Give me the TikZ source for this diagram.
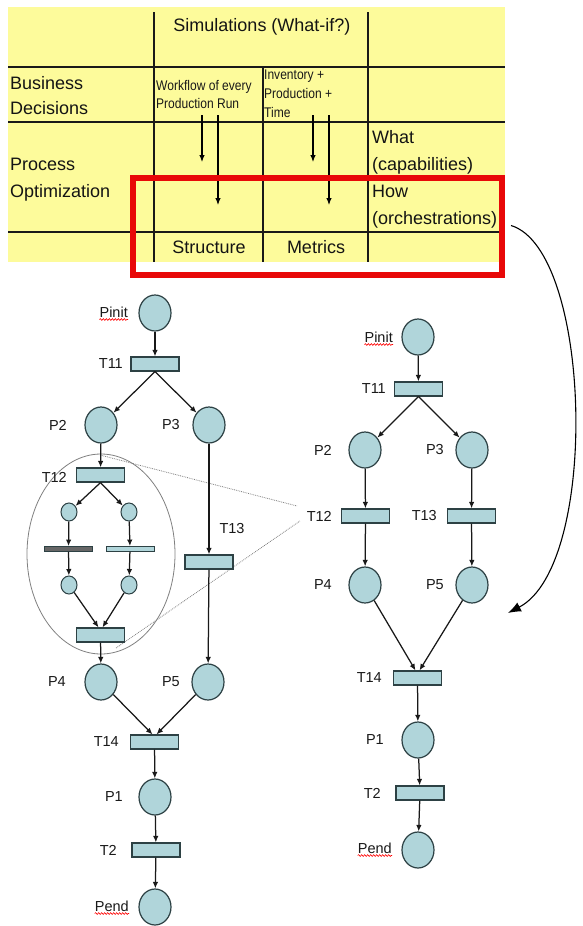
\documentclass[tikz,border=0pt]{standalone}
\usepackage{fontspec}
\setmainfont{Liberation Sans}
\newfontfamily\narrowfont[FakeStretch=0.86]{Liberation Sans}
\usetikzlibrary{shapes.geometric,arrows.meta,decorations.pathmorphing}
\definecolor{tblyellow}{RGB}{253,251,155}
\definecolor{placefill}{RGB}{176,213,218}
\definecolor{placeedge}{RGB}{45,65,68}
\definecolor{boxred}{RGB}{232,8,8}
\begin{document}
\begin{tikzpicture}[x=1pt,y=-1pt,
  place/.style={ellipse,draw=placeedge,fill=placefill,line width=1.2pt,minimum width=32pt,minimum height=36pt,inner sep=0pt},
  smallplace/.style={ellipse,draw=placeedge,fill=placefill,line width=1pt,minimum width=16pt,minimum height=18pt,inner sep=0pt},
  trans/.style={rectangle,draw=placeedge,fill=placefill,line width=1.2pt,minimum width=48pt,minimum height=14pt,inner sep=0pt},
  bar/.style={rectangle,draw=placeedge,line width=0.9pt,minimum width=48pt,minimum height=5pt,inner sep=0pt},
  lbl/.style={anchor=east,inner sep=0pt,font=\fontsize{14.5}{16}\selectfont,text=black!90},
  tbltext/.style={inner sep=0pt,text=black!92},
  smalltext/.style={inner sep=0pt,align=left,anchor=west,text=black!90},
  flow/.style={draw=black!90,line width=1.25pt,-{Latex[length=6.5pt,width=5.5pt]}},
  tblarrow/.style={draw=black,line width=1.1pt,-{Latex[length=7pt,width=5.5pt]}},
  squig/.style={draw=red,line width=0.6pt,decorate,decoration={snake,amplitude=0.9pt,segment length=3pt}},
  zoomline/.style={draw=gray,line width=0.8pt,densely dotted},
  hline/.style={draw=black!90,line width=2pt},
  vline/.style={draw=black!90,line width=1.3pt},
]
\useasboundingbox (0,0) rectangle (583,926);
\fill[white] (0,0) rectangle (583,926);

% ---------- table ----------
\fill[tblyellow] (8,7) rectangle (505,262);
\draw[hline] (8,67) -- (505,67);
\draw[hline] (8,122) -- (505,122);
\draw[hline] (8,232) -- (505,232);
\draw[vline] (154,12) -- (154,262);
\draw[vline] (263,67) -- (263,262);
\draw[vline] (368,12) -- (368,262);

\node[tbltext,font=\fontsize{18}{27}\selectfont] (sim) at (262,27) {Simulations (What-if?)};
\node[tbltext,anchor=west,align=left,font=\fontsize{18}{25}\selectfont] (bd) at (10,95.5) {Business\\Decisions};
\node[tbltext,anchor=west,align=left,font=\fontsize{18}{27}\selectfont] (po) at (10,180) {Process\\Optimization};
\node[tbltext,anchor=west,align=left,font=\fontsize{18}{27}\selectfont] (wh) at (372,179.5) {What\\(capabilities)\\How\\(orchestrations)};
\node[smalltext,font=\narrowfont\fontsize{14}{18}\selectfont] (wf) at (156,94) {Workflow of every\\Production Run};
\node[smalltext,font=\narrowfont\fontsize{14}{19}\selectfont] (inv) at (264,94) {Inventory +\\Production +\\Time};
\node[tbltext,font=\fontsize{18}{22}\selectfont] (struct) at (209,247) {Structure};
\node[tbltext,font=\fontsize{18}{22}\selectfont] (metr) at (316,247) {Metrics};

\coordinate (a1s) at (202,115); \coordinate (a1e) at (202,162);
\coordinate (a2s) at (218,115); \coordinate (a2e) at (218,205);
\coordinate (a3s) at (313,115); \coordinate (a3e) at (313,162);
\coordinate (a4s) at (329,115); \coordinate (a4e) at (329,205);
\draw[tblarrow] (a1s) -- (a1e);
\draw[tblarrow] (a2s) -- (a2e);
\draw[tblarrow] (a3s) -- (a3e);
\draw[tblarrow] (a4s) -- (a4e);

\node[draw=boxred,line width=6pt,minimum width=369pt,minimum height=97pt,inner sep=0pt] (redbox) at (317.5,226.5) {};

% ---------- curved arrow ----------
\coordinate (cend) at (508,613);
\draw[line width=1.1pt,-{Latex[length=13pt,width=10pt]}] ([xshift=6pt,yshift=1pt]redbox.east) .. controls (592,250) and (600,565) .. (cend);

% ---------- zoom ellipse and lines ----------
\draw[gray,line width=0.8pt] (101,554) ellipse [x radius=74pt, y radius=100pt];
\coordinate (zt) at (100,455);
\coordinate (zb) at (116,648);
\coordinate (zr1) at (297,506);
\coordinate (zr2) at (300,521);
\draw[zoomline] (zt) -- (zr1);
\draw[zoomline] (zb) -- (zr2);

% ---------- left net ----------
\node[place] (lPinit) at (155,313) {};
\node[trans] (lT11) at (155,364) {};
\node[place] (lP2) at (101,425) {};
\node[place] (lP3) at (209,425) {};
\node[trans] (lT12) at (100.5,475) {};
\node[smallplace] (la1) at (69,512) {};
\node[smallplace] (la2) at (129,512) {};
\node[bar,fill=black!60] (lb1) at (68.5,549) {};
\node[bar,fill=placefill] (lb2) at (130,549) {};
\node[smallplace] (lc1) at (69,585) {};
\node[smallplace] (lc2) at (129,585) {};
\node[trans] (lJ) at (100.5,635) {};
\node[trans] (lT13) at (209,562) {};
\node[place] (lP4) at (101,682) {};
\node[place] (lP5) at (208,682) {};
\node[trans] (lT14) at (154.5,742) {};
\node[place] (lP1) at (155,797) {};
\node[trans] (lT2) at (156,850) {};
\node[place] (lPend) at (155,907) {};

\node[lbl] (lPinitL) at (128,312) {Pinit};
\node[lbl] (lT11L) at (123,364) {T11};
\node[lbl] (lP2L) at (67,425) {P2};
\node[lbl] (lP3L) at (180,425) {P3};
\node[lbl] (lT12L) at (67,477) {T12};
\node[lbl,anchor=center] (lT13L) at (232,529) {T13};
\node[lbl] (lP4L) at (66,682) {P4};
\node[lbl] (lP5L) at (180,682) {P5};
\node[lbl] (lT14L) at (119,742) {T14};
\node[lbl] (lP1L) at (123,797) {P1};
\node[lbl] (lT2L) at (117,850) {T2};
\node[lbl] (lPendL) at (129,906) {Pend};
\draw[squig] ([yshift=-2pt]lPinitL.south west) -- ([yshift=-2pt]lPinitL.south east);
\draw[squig] ([yshift=-2pt]lPendL.south west) -- ([yshift=-2pt]lPendL.south east);

\draw[flow] (lPinit) -- (lT11);
\draw[flow] (lT11.south) -- (lP2);
\draw[flow] (lT11.south) -- (lP3);
\draw[flow] (lP2) -- (lT12);
\draw[flow] (lT12.south) -- (la1);
\draw[flow] (lT12.south) -- (la2);
\draw[flow] (la1) -- (lb1);
\draw[flow] (la2) -- (lb2);
\draw[flow] (lb1) -- (lc1);
\draw[flow] (lb2) -- (lc2);
\draw[flow] (lc1) -- ([xshift=-2pt]lJ.north);
\draw[flow] (lc2) -- ([xshift=2pt]lJ.north);
\draw[flow] (lJ) -- (lP4);
\draw[flow] (lP3) -- (lT13);
\draw[flow] (lT13) -- (lP5);
\draw[flow] (lP4) -- ([xshift=-2pt]lT14.north);
\draw[flow] (lP5) -- ([xshift=2pt]lT14.north);
\draw[flow] (lT14) -- (lP1);
\draw[flow] (lP1) -- (lT2);
\draw[flow] (lT2) -- (lPend);

% ---------- right net ----------
\node[place] (rPinit) at (418,337) {};
\node[trans] (rT11) at (418.5,389) {};
\node[place] (rP2) at (365,450) {};
\node[place] (rP3) at (472,450) {};
\node[trans] (rT12) at (365.5,516) {};
\node[trans] (rT13) at (471.5,516) {};
\node[place] (rP4) at (365,585) {};
\node[place] (rP5) at (472,585) {};
\node[trans] (rT14) at (417.5,678) {};
\node[place] (rP1) at (418,740) {};
\node[trans] (rT2) at (420,793) {};
\node[place] (rPend) at (418,850) {};

\node[lbl] (rPinitL) at (393,337) {Pinit};
\node[lbl] (rT11L) at (386,389) {T11};
\node[lbl] (rP2L) at (332,450) {P2};
\node[lbl] (rP3L) at (444,450) {P3};
\node[lbl] (rT12L) at (332,516) {T12};
\node[lbl] (rT13L) at (437,516) {T13};
\node[lbl] (rP4L) at (332,585) {P4};
\node[lbl] (rP5L) at (444,585) {P5};
\node[lbl] (rT14L) at (382,678) {T14};
\node[lbl] (rP1L) at (384,740) {P1};
\node[lbl] (rT2L) at (381,793) {T2};
\node[lbl] (rPendL) at (392,848) {Pend};
\draw[squig] ([yshift=-2pt]rPinitL.south west) -- ([yshift=-2pt]rPinitL.south east);
\draw[squig] ([yshift=-2pt]rPendL.south west) -- ([yshift=-2pt]rPendL.south east);

\draw[flow] (rPinit) -- (rT11);
\draw[flow] (rT11.south) -- (rP2);
\draw[flow] (rT11.south) -- (rP3);
\draw[flow] (rP2) -- (rT12);
\draw[flow] (rP3) -- (rT13);
\draw[flow] (rT12) -- (rP4);
\draw[flow] (rT13) -- (rP5);
\draw[flow] (rP4) -- ([xshift=-2pt]rT14.north);
\draw[flow] (rP5) -- ([xshift=2pt]rT14.north);
\draw[flow] (rT14) -- (rP1);
\draw[flow] (rP1) -- (rT2);
\draw[flow] (rT2) -- (rPend);
\end{tikzpicture}
\end{document}
